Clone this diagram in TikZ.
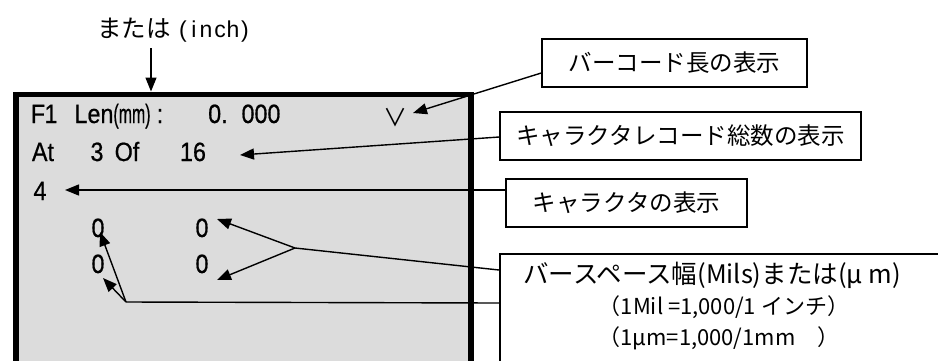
\documentclass[tikz,border=0pt]{standalone}
\usepackage{graphicx}
\usepackage{fontspec}
\setmainfont{Noto Sans CJK JP}
\newfontfamily\jpfont{Noto Sans CJK JP}
\newfontfamily\lcdfont[FakeBold=0.7]{Liberation Sans}
\newfontfamily\topfont{Liberation Sans}
\usetikzlibrary{arrows.meta}
\definecolor{lcdgray}{HTML}{DCDCDC}
\newcommand{\lcraw}[1]{{\lcdfont\fontsize{26.5}{26.5}\selectfont #1}}
\newcommand{\lc}[1]{\scalebox{0.88}[1]{\lcraw{#1}}}
\newcommand{\tc}[1]{{\topfont\fontsize{23}{23}\selectfont #1}}
\begin{document}
\begin{tikzpicture}[x=1pt,y=-1pt,
  ch/.style={inner sep=0pt, anchor=base},
  lbl/.style={draw, line width=1.5pt, font=\jpfont\fontsize{23.5}{23.5}\selectfont, inner sep=0pt, minimum height=48pt},
  jp/.style={font=\jpfont\fontsize{22}{22}\selectfont, inner sep=0pt},
  conn/.style={line width=1.4pt},
  arr/.style={conn, -{Triangle[length=14pt,width=11pt]}},
]
\useasboundingbox (0,0) rectangle (938,360);
\begin{scope}
  \clip (0,0) rectangle (938,360);
  \node[draw, line width=5.5pt, fill=lcdgray, anchor=north west, inner sep=0pt,
        minimum width=455pt, minimum height=330pt] (lcdbox) at (13,91.5) {};
  \node[draw, line width=1.5pt, anchor=north west, inner sep=0pt,
        minimum width=480pt, minimum height=160pt] (bw) at (499,253) {};
\end{scope}

% top label
\node[inner sep=0pt, anchor=base west, font=\jpfont\fontsize{24.5}{24.5}\selectfont] (ttl) at (97,37) {または};
\node[ch] (ti1) at (183,37) {\tc{(}};
\node[ch] (ti2) at (194,37) {\tc{i}};
\node[ch] (ti3) at (206,37) {\tc{n}};
\node[ch] (ti4) at (220,37) {\tc{c}};
\node[ch] (ti5) at (233,37) {\tc{h}};
\node[ch] (ti6) at (245,37) {\tc{)}};
\coordinate (tA) at (151,48);
\draw[arr] (tA) -- (tA |- lcdbox.north);

% LCD line 1
\node[ch] (a1) at (38,123) {\lc{F}};
\node[ch] (a2) at (51,123) {\lc{1}};
\node[ch] (a3) at (94,123) {\lc{Len}};
\node[ch] (a4) at (132,123) {\scalebox{0.6}[1]{\lcraw{(mm)}}};
\node[ch] (a5) at (160,123) {\lc{:}};
\node[ch, anchor=base west] (a6) at (208,123) {\lc{0.}};
\node[ch] (a8) at (261,123) {\lc{000}};
\node[font=\jpfont\fontsize{24}{24}\selectfont, inner sep=0pt] (vv) at (395,118) {∨};
% LCD line 2
\node[ch] (c1) at (43,161) {\lc{At}};
\node[ch] (c2) at (97,161) {\lc{3}};
\node[ch] (c3) at (127,161) {\lc{Of}};
\node[ch] (c4) at (193,161) {\lc{16}};
% LCD line 3
\node[ch] (l3) at (40,200) {\lc{4}};
\node[ch] (z1) at (98,237) {\lc{0}};
\node[ch] (z2) at (202,237) {\lc{0}};
\node[ch] (z3) at (98,273) {\lc{0}};
\node[ch] (z4) at (202,273) {\lc{0}};

% label boxes
\node[lbl, minimum width=265pt] (b1) at (674.5,63) {バーコード長の表示};
\node[lbl, minimum width=361pt] (b2) at (680.5,136) {キャラクタレコード総数の表示};
\node[lbl, minimum width=241pt] (b3) at (626.5,203) {キャラクタの表示};

\node[jp, font=\jpfont\fontsize{25.5}{25.5}\selectfont] (bw1) at (712,275) {バースペース幅(Mils)または(μ m)};
\node[jp] (bw2) at (724,307) {（1Mil =1,000/1 インチ）};
\node[jp] (bw3) at (719,338) {（1μm=1,000/1mm　）};

% connectors
\coordinate (t1) at (413,113);
\coordinate (t2) at (240,155);
\coordinate (t3) at (65,190);
\coordinate (j1) at (295,248);
\coordinate (t4) at (217,219);
\coordinate (t5) at (217,280);
\coordinate (j2) at (126,302);
\coordinate (t6) at (100,232);
\coordinate (t7) at (103,278);

\draw[arr] ([yshift=-10pt]b1.west) -- (t1);
\draw[arr] ([yshift=-1pt]b2.west) -- (t2);
\draw[arr] (b3.west |- t3) -- (t3);
\draw[conn] ([yshift=-17pt]bw.north west) -- (j1);
\draw[arr] (j1) -- (t4);
\draw[arr] (j1) -- (t5);
\draw[conn] ([yshift=-50pt]bw.north west) -- (j2);
\draw[arr] (j2) -- (t6);
\draw[arr] (j2) -- (t7);
\end{tikzpicture}
\end{document}
